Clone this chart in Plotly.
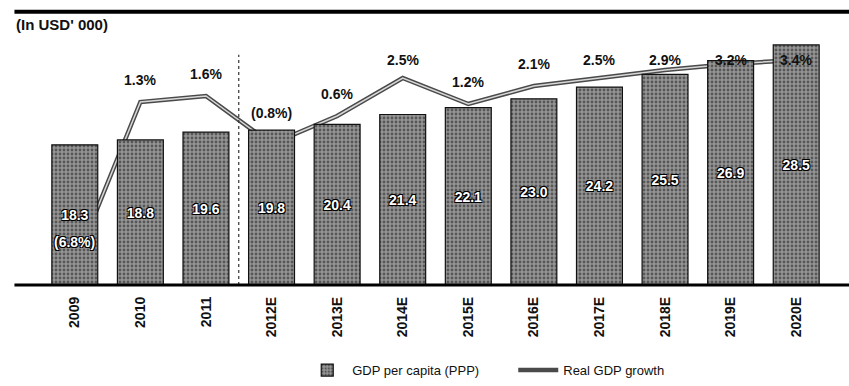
import plotly.graph_objects as go

years = ["2009", "2010", "2011", "2012E", "2013E", "2014E", "2015E",
         "2016E", "2017E", "2018E", "2019E", "2020E"]
gdp_per_capita = [18.3, 18.8, 19.6, 19.8, 20.4, 21.4, 22.1, 23.0, 24.2, 25.5, 26.9, 28.5]
real_growth = [-6.8, 1.3, 1.6, -0.8, 0.6, 2.5, 1.2, 2.1, 2.5, 2.9, 3.2, 3.4]

def fmt_pct(v):
    return f"({abs(v):.1f}%)" if v < 0 else f"{v:.1f}%"

font = "Liberation Sans, Arial, sans-serif"
outline = "1px 1px 0 #000, -1px -1px 0 #000, 1px -1px 0 #000, -1px 1px 0 #000"

fig = go.Figure()

# growth line sits on the base axis so the bars (overlaying axis) are drawn over it
fig.add_trace(go.Scatter(
    x=years, y=real_growth, name="Real GDP growth", yaxis="y",
    mode="lines", line=dict(color="#4a4a4a", width=4.5),
    hoverinfo="skip",
))
fig.add_trace(go.Scatter(
    x=years, y=real_growth, yaxis="y", showlegend=False,
    mode="lines", line=dict(color="#d8d8d8", width=1.5),
    hoverinfo="skip",
))

fig.add_trace(go.Bar(
    x=years, y=gdp_per_capita, name="GDP per capita (PPP)", yaxis="y2",
    marker=dict(color="#8a8a8a", line=dict(color="#111", width=1.2),
                pattern=dict(shape=".", size=4, solidity=0.4,
                             fgcolor="#1a1a1a", bgcolor="#959595")),
    width=0.7, hoverinfo="skip",
))

# value labels inside bars
fig.add_trace(go.Scatter(
    x=years, y=[v / 2 + 1.8 for v in gdp_per_capita], yaxis="y2",
    mode="text", text=[f"{v:.1f}" for v in gdp_per_capita],
    textfont=dict(family=font, size=14, color="white", weight="bold", shadow=outline),
    showlegend=False, hoverinfo="skip",
))

# growth labels
for i, v in enumerate(real_growth):
    inside = v < -5
    label_y = v + 1.55 if -5 < v < 0 else min(v + 1.1, 3.4)
    fig.add_annotation(
        x=i, y=label_y, xref="x", yref="y", showarrow=False,
        text=fmt_pct(v),
        font=dict(family=font, size=14, weight="bold",
                  color=("white" if inside else "#111"),
                  shadow=(outline if inside else "none")),
    )

fig.add_shape(type="line", xref="x", yref="paper", x0=2.5, x1=2.5, y0=0, y1=0.94,
              line=dict(color="#333", width=1.2, dash="dot"))
fig.add_shape(type="line", xref="paper", yref="paper", x0=-0.035, x1=1.03, y0=0, y1=0,
              line=dict(color="#000", width=3))
fig.add_shape(type="line", xref="paper", yref="paper", x0=-0.035, x1=1.03, y0=1.115, y1=1.115,
              line=dict(color="#000", width=4))

fig.add_annotation(text="<b>(In USD' 000)</b>", xref="paper", yref="paper",
                   x=-0.036, y=1.02, xanchor="left", yanchor="bottom", showarrow=False,
                   font=dict(family=font, size=15, color="#111"))

fig.update_layout(
    width=849, height=386,
    margin=dict(l=42, r=20, t=40, b=101),
    paper_bgcolor="white", plot_bgcolor="white",
    bargap=0.3,
    font=dict(family=font, color="#111"),
    xaxis=dict(type="category", tickangle=-90, showgrid=False, showline=False,
               ticks="", ticklabelstandoff=8, automargin=False,
               tickfont=dict(family=font, size=14, color="#111", weight="bold"),
               range=[-0.5, 11.5]),
    yaxis=dict(range=[-7.85, 4.4], visible=False, showgrid=False, zeroline=False),
    yaxis2=dict(range=[4, 29], overlaying="y", visible=False, showgrid=False, zeroline=False),
    legend=dict(orientation="h", xref="container", yref="container",
                x=0.356, xanchor="left", y=0.041, yanchor="middle",
                font=dict(family=font, size=13, color="#111"),
                entrywidth=156, itemwidth=40, traceorder="reversed"),
    showlegend=True,
)

fig.write_html("out.html")
